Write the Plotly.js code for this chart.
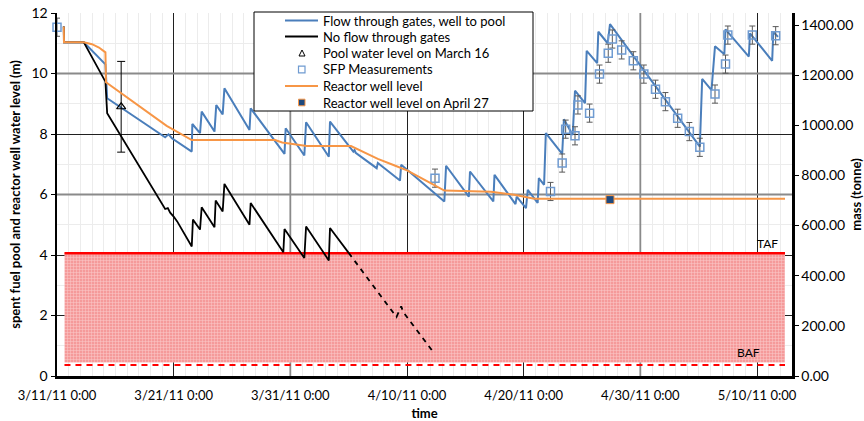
<!DOCTYPE html>
<html>
<head>
<meta charset="utf-8">
<script src="https://cdn.plot.ly/plotly-3.0.1.min.js"></script>
<style>html,body{margin:0;padding:0;background:#fff;}#chart{width:864px;height:421px;}</style>
</head>
<body>
<div id="chart"></div>
<script>
// ---- data (x = days since 2011-03-11 00:00, y = water level in m) ----
const flowDay = [0.58,0.6,2.3,4.15,4.3,9.27,9.56,9.85,11.55,11.6,12.26,12.4,13.5,13.65,14.2,14.35,16.5,16.6,19.5,19.6,21.2,21.35,23.3,23.4,25.4,25.5,25.6,27.4,27.5,29.4,29.5,33.2,33.35,35.3,35.4,37.4,37.5,39.3,39.4,40.2,40.35,41.2,41.3,41.75,41.9,43.3,43.45,44.2,44.4,45.26,45.4,46.3,46.4,47.2,47.4,55.1,55.3,56.1,56.4,57.2,57.3,59.3,59.4,61.3,61.4,61.8];
const flowLevel = [11.55,11.03,11.03,10.3,9.18,7.89,7.99,7.86,7.42,8.33,8.03,8.74,8.08,8.96,8.65,9.51,8.13,8.85,7.34,8.19,7.29,8.39,7.25,8.41,7.42,7.47,7.38,6.87,7.04,6.46,6.98,5.77,6.95,5.93,6.76,5.77,6.65,5.68,5.93,5.55,6.15,5.72,6.54,6.32,8.03,7.34,8.49,7.97,9.43,9.02,10.75,10.34,11.38,11.0,11.63,7.58,9.82,9.45,10.9,10.64,11.46,10.56,11.33,10.42,11.38,11.21];

const noFlowDay = [0.58,0.6,2.3,4.15,4.3,9.27,9.5,9.7,10.0,10.3,11.55,11.65,12.26,12.4,13.5,13.6,14.2,14.35,16.5,16.6,19.4,19.5,21.2,21.35,23.3,23.4,25.0];
const noFlowLevel = [11.55,11.03,11.03,9.73,8.69,5.52,5.55,5.4,5.27,5.11,4.28,5.17,4.84,5.58,4.92,5.80,5.44,6.35,5.0,5.72,4.09,4.86,3.9,4.94,3.82,4.89,4.07];

const noFlowProjDay = [25.0,29.1,29.5,29.7,32.35];
const noFlowProjLevel = [4.07,1.95,2.3,2.1,0.74];

const wellDay = [0.58,0.6,2.3,3.0,3.6,4.0,4.15,4.2,9.4,11.55,18.7,19.3,21.4,25.2,27.5,29.0,30.0,31.75,33.2,37.2,39.2,40.9,62.4];
const wellLevel = [11.55,11.03,11.03,10.97,10.86,10.75,10.7,9.71,8.27,7.8,7.8,7.72,7.6,7.6,7.18,6.95,6.8,6.43,6.13,6.09,5.99,5.86,5.86];

const march16Day = [5.5];
const march16Level = [8.9];
const march16Err = [1.5];

const sfpDay = [0,32.4,42.3,43.3,43.6,44.4,44.65,45.65,46.5,47.25,47.6,48.4,49.4,50.3,51.3,52.15,53.2,54.2,55.1,56.4,57.3,57.5,59.6,61.6];
const sfpLevel = [11.53,6.54,6.1,7.04,8.16,7.94,8.96,8.69,9.98,10.67,11.14,10.78,10.42,9.98,9.48,9.07,8.52,8.08,7.56,9.32,10.31,11.27,11.27,11.25];
const sfpErr = 0.3;

const april27Day = [47.4];
const april27Level = [5.83];

const tafLevel = 4.06;
const bafLevel = 0.36;
const bandBottom = 0.45;
const bandDay = [0.64, 62.4];

const xTickLabels = ['3/11/11 0:00','3/21/11 0:00','3/31/11 0:00','4/10/11 0:00','4/20/11 0:00','4/30/11 0:00','5/10/11 0:00'];
const xTickDay = [0,10,20,30,40,50,60];
const massTicks = [0,200,400,600,800,1000,1200,1400];
const grayGridDay = [20,50];
const grayGridLevel = [6,10];

const legendLabels = ['Flow through gates, well to pool','No flow through gates','Pool water level on March 16','SFP Measurements','Reactor well level','Reactor well level on April 27'];

// ---- helpers ----
const BASE = Date.UTC(2011,2,11);
const DAYMS = 86400000;
function toDate(d){ return new Date(BASE + d*DAYMS).toISOString().slice(0,19).replace('T',' '); }
function dates(arr){ return arr.map(toDate); }

const FONT = 'Lato, "Liberation Sans", sans-serif';
const BLUE = '#4a7ebb', ORANGE = '#f79646', RED = '#ff0000';

const traces = [
  {x: dates([bandDay[0],bandDay[1]]), y:[bandBottom,bandBottom], mode:'lines', line:{width:0}, showlegend:false, hoverinfo:'skip'},
  {x: dates([bandDay[0],bandDay[1]]), y:[tafLevel,tafLevel], mode:'lines', line:{width:0}, fill:'tonexty', fillcolor:'rgba(244,140,140,0.85)',
   fillpattern:{shape:'+', bgcolor:'#f59a9a', fgcolor:'#fbcccc', size:3, solidity:0.3}, showlegend:false, hoverinfo:'skip'},
  {x: dates([bandDay[0],bandDay[1]]), y:[tafLevel,tafLevel], mode:'lines', line:{color:RED, width:2.5}, showlegend:false, hoverinfo:'skip'},
  {x: dates([bandDay[0],bandDay[1]]), y:[bafLevel,bafLevel], mode:'lines', line:{color:RED, width:2, dash:'6px,5px'}, showlegend:false, hoverinfo:'skip'},
  {x: dates(flowDay), y: flowLevel, mode:'lines', line:{color:BLUE, width:2}, name:legendLabels[0]},
  {x: dates(noFlowDay), y: noFlowLevel, mode:'lines', line:{color:'#000', width:1.8}, name:legendLabels[1]},
  {x: dates(noFlowProjDay), y: noFlowProjLevel, mode:'lines', line:{color:'#000', width:1.8, dash:'5px,5px'}, showlegend:false},
  {x: dates(march16Day), y: march16Level, mode:'markers', marker:{symbol:'triangle-up-open', color:'#000', size:8, line:{width:1.2}},
   error_y:{type:'data', array:march16Err, color:'#000', thickness:1, width:4}, name:legendLabels[2]},
  {x: dates(sfpDay), y: sfpLevel, mode:'markers', marker:{symbol:'square-open', color:'#6f9bd1', size:8, line:{width:1.5}},
   error_y:{type:'constant', value:sfpErr, color:'#595959', thickness:1, width:3}, name:legendLabels[3], cliponaxis:false},
  {x: dates(wellDay), y: wellLevel, mode:'lines', line:{color:ORANGE, width:2}, name:legendLabels[4]},
  {x: dates(april27Day), y: april27Level, mode:'markers', marker:{symbol:'square', color:'#1f497d', size:8, line:{color:ORANGE, width:1}}, name:legendLabels[5]},
  {x:[toDate(0)], y:[null], yaxis:'y2', mode:'markers', showlegend:false, hoverinfo:'skip'}
];

// ---- manual legend (pixel -> paper) ----
const L=57, R=792, T=13, B=376;
function px(x){ return (x-L)/(R-L); }
function py(y){ return (B-y)/(B-T); }
const rowY = [20.5,36.5,53,69.5,86,102.5];
const shapes = [];
grayGridDay.forEach(d=>shapes.push({type:'line', xref:'x', yref:'y', x0:toDate(d), x1:toDate(d), y0:0, y1:12, line:{color:'#8a8a8a', width:1.8}, layer:'between'}));
grayGridLevel.forEach(v=>shapes.push({type:'line', xref:'x', yref:'y', x0:toDate(0), x1:toDate(63), y0:v, y1:v, line:{color:'#8a8a8a', width:1.8}, layer:'between'}));
shapes.push(
  {type:'rect', xref:'paper', yref:'paper', x0:px(254), x1:px(533), y0:py(111), y1:py(12), fillcolor:'#fff', line:{color:'#000', width:1}, layer:'above'},
  {type:'line', xref:'paper', yref:'paper', x0:px(285), x1:px(318), y0:py(rowY[0]), y1:py(rowY[0]), line:{color:BLUE, width:2}, layer:'above'},
  {type:'line', xref:'paper', yref:'paper', x0:px(285), x1:px(318), y0:py(rowY[1]), y1:py(rowY[1]), line:{color:'#000', width:2}, layer:'above'},
  {type:'path', xref:'paper', yref:'paper', path:`M ${px(299)} ${py(rowY[2]+3)} L ${px(305)} ${py(rowY[2]+3)} L ${px(302)} ${py(rowY[2]-3)} Z`, line:{color:'#000', width:1}, layer:'above'},
  {type:'rect', xref:'paper', yref:'paper', x0:px(298.5), x1:px(305), y0:py(rowY[3]+3.3), y1:py(rowY[3]-3.3), fillcolor:'#fff', line:{color:'#6f9bd1', width:1.2}, layer:'above'},
  {type:'line', xref:'paper', yref:'paper', x0:px(285), x1:px(318), y0:py(rowY[4]), y1:py(rowY[4]), line:{color:ORANGE, width:2}, layer:'above'},
  {type:'rect', xref:'paper', yref:'paper', x0:px(298.5), x1:px(305), y0:py(rowY[5]+3.3), y1:py(rowY[5]-3.3), fillcolor:'#1f497d', line:{color:ORANGE, width:1}, layer:'above'}
);
const annotations = legendLabels.map((t,i)=>({text:t, xref:'paper', yref:'paper', x:px(321), y:py(rowY[i]), xanchor:'left', yanchor:'middle', showarrow:false, font:{family:FONT, size:13, color:'#000'}}));
annotations.push({text:'TAF', xref:'x', yref:'y', x:toDate(60.9), y:4.38, showarrow:false, font:{family:FONT, size:12, color:'#000'}});
annotations.push({text:'BAF', xref:'x', yref:'y', x:toDate(59.3), y:0.78, showarrow:false, font:{family:FONT, size:12, color:'#000'}});

const layout = {
  width:864, height:421,
  margin:{l:L, r:864-R, t:T, b:421-B},
  paper_bgcolor:'#fff', plot_bgcolor:'#fff',
  showlegend:false,
  font:{family:FONT, size:13, color:'#000'},
  xaxis:{type:'date', range:[toDate(0), toDate(63)], tickvals:dates(xTickDay), ticktext:xTickLabels,
    showgrid:true, gridcolor:'#202020', gridwidth:1, showline:true, linecolor:'#000', linewidth:2.5, ticks:'', zeroline:false,
    minor:{dtick:DAYMS, tick0:toDate(0), showgrid:true, gridcolor:'#ececec', gridwidth:1},
    tickfont:{family:FONT, size:13}, ticklabelstandoff:6,
    title:{text:'time', font:{family:FONT, size:13, weight:'bold'}, standoff:8}},
  yaxis:{range:[0,12], dtick:2, showgrid:true, gridcolor:'#202020', gridwidth:1, showline:true, linecolor:'#000', linewidth:2.5,
    ticks:'outside', ticklen:4, tickcolor:'#000', zeroline:false,
    minor:{dtick:1, showgrid:true, gridcolor:'#ececec', gridwidth:1},
    tickfont:{family:FONT, size:14},
    title:{text:'spent fuel pool and reactor well water level (m)', font:{family:FONT, size:13, weight:'bold'}, standoff:8}},
  yaxis2:{overlaying:'y', side:'right', range:[0,1448], tickvals:massTicks, tickformat:'.2f', showgrid:false, showline:true,
    linecolor:'#000', linewidth:2.5, ticks:'outside', ticklen:4, tickcolor:'#000', zeroline:false,
    tickfont:{family:FONT, size:14},
    title:{text:'mass (tonne)', font:{family:FONT, size:13, weight:'bold'}, standoff:6}},
  shapes:shapes,
  annotations:annotations
};

Plotly.newPlot('chart', traces, layout, {displayModeBar:false, staticPlot:true});
</script>
</body>
</html>
